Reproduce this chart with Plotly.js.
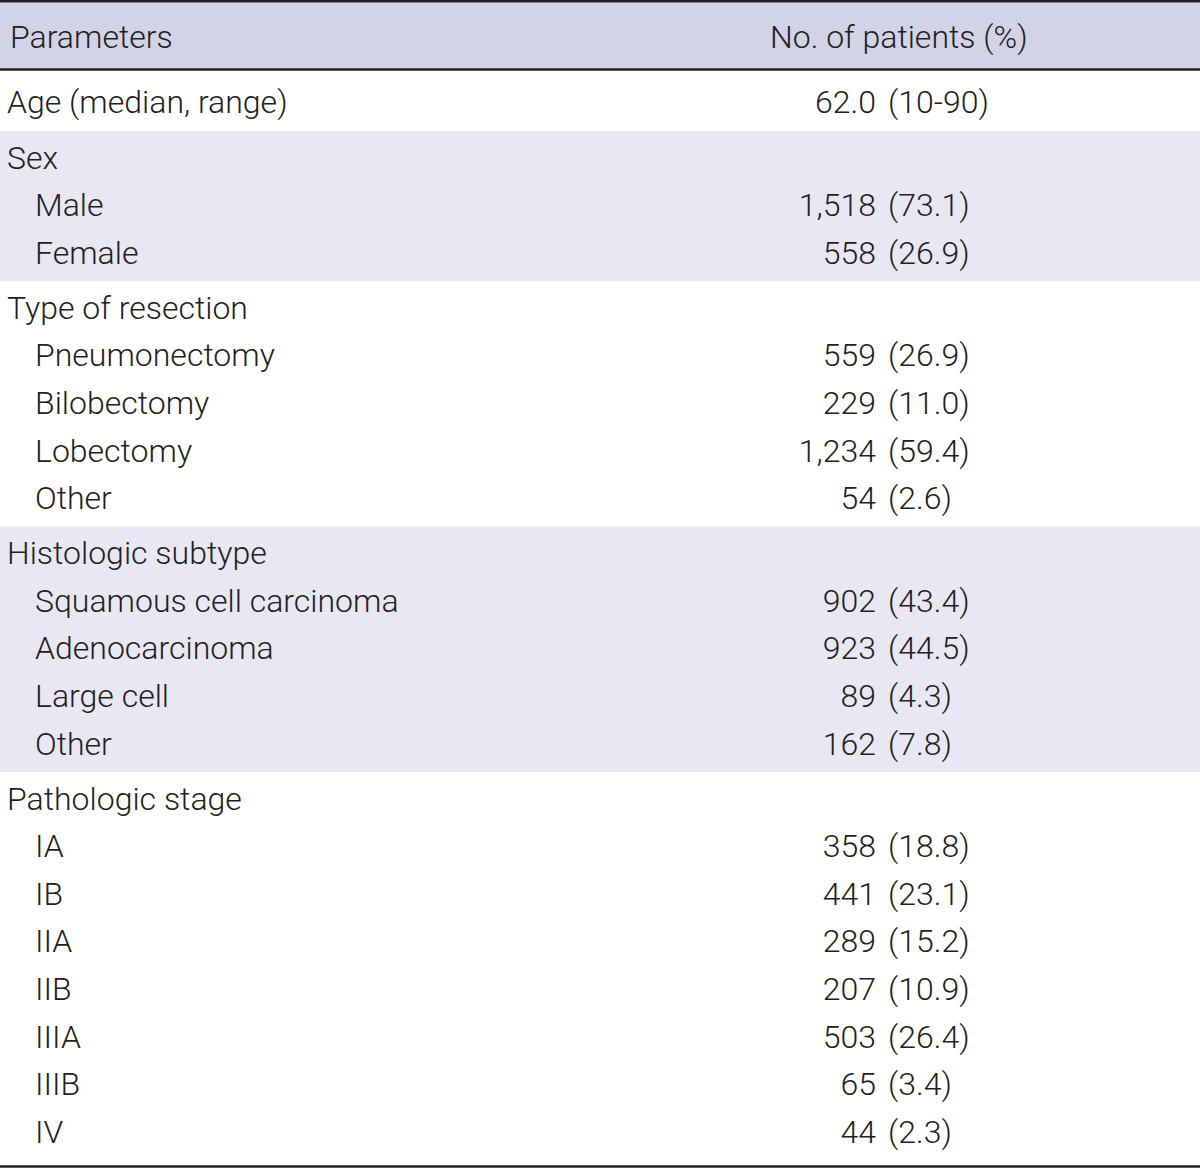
<!DOCTYPE html>
<html>
<head>
<meta charset="utf-8">
<script src="https://cdn.plot.ly/plotly-3.0.1.min.js"></script>
<style>
  html, body { margin: 0; padding: 0; background: #ffffff; }
  #chart { width: 1200px; height: 1168px; }
</style>
</head>
<body>
<div id="chart"></div>
<script>
// ---------- Data ----------
const headerLabels = ['Parameters', 'No. of patients (%)'];

const ageLabel = 'Age (median, range)';
const ageMedian = 62.0;
const ageRange = [10, 90];

const groupTitles = ['Sex', 'Type of resection', 'Histologic subtype', 'Pathologic stage'];

const sexCategories = ['Male', 'Female'];
const sexCounts = [1518, 558];
const sexPercents = [73.1, 26.9];

const resectionCategories = ['Pneumonectomy', 'Bilobectomy', 'Lobectomy', 'Other'];
const resectionCounts = [559, 229, 1234, 54];
const resectionPercents = [26.9, 11.0, 59.4, 2.6];

const histologyCategories = ['Squamous cell carcinoma', 'Adenocarcinoma', 'Large cell', 'Other'];
const histologyCounts = [902, 923, 89, 162];
const histologyPercents = [43.4, 44.5, 4.3, 7.8];

const stageCategories = ['IA', 'IB', 'IIA', 'IIB', 'IIIA', 'IIIB', 'IV'];
const stageCounts = [358, 441, 289, 207, 503, 65, 44];
const stagePercents = [18.8, 23.1, 15.2, 10.9, 26.4, 3.4, 2.3];

// ---------- Build rows ----------
const groups = [
  { title: groupTitles[0], cats: sexCategories, counts: sexCounts, pcts: sexPercents, shaded: true },
  { title: groupTitles[1], cats: resectionCategories, counts: resectionCounts, pcts: resectionPercents, shaded: false },
  { title: groupTitles[2], cats: histologyCategories, counts: histologyCounts, pcts: histologyPercents, shaded: true },
  { title: groupTitles[3], cats: stageCategories, counts: stageCounts, pcts: stagePercents, shaded: false }
];

const TXT = '#231f20';
const FONT = 'Roboto, "Liberation Sans", Arial, sans-serif';
const FS = 32;
const PITCH = 47.6, PAD = 27.5, DY = 2;
const X_GROUP = 7, X_ITEM = 35, X_COUNT = 876, X_PCT = 888;

const fmtCount = n => n.toLocaleString('en-US');
const fmtPct = p => '(' + p.toFixed(1) + ')';

const headY = [], headText = [];
const itemY = [], itemText = [];
const valY = [], countText = [], pctText = [];
const shapes = [];

// Age row
const ageY = 103 + DY;
headY.push(ageY); headText.push(ageLabel);
valY.push(ageY); countText.push(ageMedian.toFixed(1)); pctText.push('(' + ageRange[0] + '-' + ageRange[1] + ')');

let y = 131;
groups.forEach(g => {
  const start = y;
  let cy = y + PAD;
  headY.push(cy + DY); headText.push(g.title);
  g.cats.forEach((c, i) => {
    cy += PITCH;
    itemY.push(cy + DY); itemText.push(c);
    valY.push(cy + DY); countText.push(fmtCount(g.counts[i])); pctText.push(fmtPct(g.pcts[i]));
  });
  const end = cy + PAD;
  if (g.shaded) {
    shapes.push({ type: 'rect', xref: 'x', yref: 'y', x0: 0, x1: 1200, y0: start, y1: end,
      fillcolor: '#e8e7f3', line: { width: 0 }, layer: 'below' });
  }
  y = end;
});

// header band and rules
shapes.push({ type: 'rect', xref: 'x', yref: 'y', x0: 0, x1: 1200, y0: 2.5, y1: 68.5,
  fillcolor: '#d3d3e8', line: { width: 0 }, layer: 'below' });
shapes.push({ type: 'line', xref: 'x', yref: 'y', x0: 0, x1: 1200, y0: 1.3, y1: 1.3, line: { color: TXT, width: 2.6 } });
shapes.push({ type: 'line', xref: 'x', yref: 'y', x0: 0, x1: 1200, y0: 69.5, y1: 69.5, line: { color: TXT, width: 2.6 } });
shapes.push({ type: 'line', xref: 'x', yref: 'y', x0: 0, x1: 1200, y0: 1166.5, y1: 1166.5, line: { color: TXT, width: 2.6 } });

const font = { family: FONT, size: FS, color: TXT, weight: 300 };

const traces = [
  { type: 'scatter', mode: 'text', x: headY.map(() => X_GROUP), y: headY, text: headText,
    textposition: 'middle right', textfont: font, hoverinfo: 'skip', showlegend: false },
  { type: 'scatter', mode: 'text', x: itemY.map(() => X_ITEM), y: itemY, text: itemText,
    textposition: 'middle right', textfont: font, hoverinfo: 'skip', showlegend: false },
  { type: 'scatter', mode: 'text', x: valY.map(() => X_COUNT), y: valY, text: countText,
    textposition: 'middle left', textfont: font, hoverinfo: 'skip', showlegend: false },
  { type: 'scatter', mode: 'text', x: valY.map(() => X_PCT), y: valY, text: pctText,
    textposition: 'middle right', textfont: font, hoverinfo: 'skip', showlegend: false }
];

const layout = {
  width: 1200, height: 1168,
  margin: { l: 0, r: 0, t: 0, b: 0 },
  paper_bgcolor: '#ffffff', plot_bgcolor: '#ffffff',
  xaxis: { range: [0, 1200], visible: false, fixedrange: true },
  yaxis: { range: [1168, 0], visible: false, fixedrange: true },
  shapes: shapes,
  annotations: [
    { xref: 'x', yref: 'y', x: X_GROUP + 1, y: 35 + DY, text: headerLabels[0], showarrow: false,
      xanchor: 'left', yanchor: 'middle', font: font },
    { xref: 'x', yref: 'y', x: 899, y: 35 + DY, text: headerLabels[1], showarrow: false,
      xanchor: 'center', yanchor: 'middle', font: font }
  ],
  showlegend: false
};

Plotly.newPlot('chart', traces, layout, { staticPlot: true, displayModeBar: false });
</script>
</body>
</html>
